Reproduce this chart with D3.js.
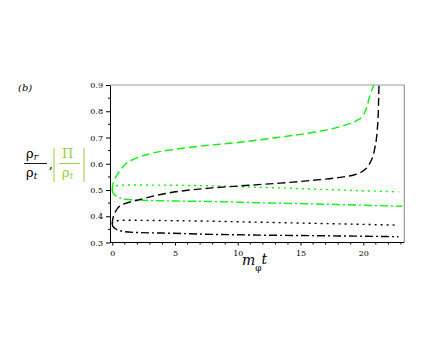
<!DOCTYPE html>
<html><head><meta charset="utf-8">
<script src="https://cdn.jsdelivr.net/npm/d3@7"></script>
<style>
body{margin:0;background:#fff;}
svg{display:block;}
</style></head>
<body>
<svg id="c" width="436" height="354"></svg>
<script>
// ---- data ----
const xTicks = [0, 5, 10, 15, 20];
const yTicks = [0.3, 0.4, 0.5, 0.6, 0.7, 0.8, 0.9];
const xTickLabels = ["0", "5", "10", "15", "20"];
const yTickLabels = ["0.3", "0.4", "0.5", "0.6", "0.7", "0.8", "0.9"];

const greenDashX = [0, 0.02, 0.08, 0.2, 0.4, 0.7, 1, 2, 3, 5, 7, 10, 13, 15, 17, 18.4, 19.5, 20.0, 20.3, 20.5, 20.7, 20.85];
const greenDashY = [0.5, 0.513, 0.527, 0.542, 0.559, 0.579, 0.596, 0.623, 0.638, 0.655, 0.667, 0.681, 0.699, 0.712, 0.728, 0.745, 0.765, 0.785, 0.818, 0.855, 0.883, 0.9];

const blackDashX = [0, 0.02, 0.08, 0.2, 0.45, 0.7, 1, 2, 3, 4.4, 6, 8, 10, 13, 14.4, 16, 18.4, 19.3, 20.0, 20.5, 20.9, 21.1, 21.2, 21.25];
const blackDashY = [0.37, 0.383, 0.397, 0.412, 0.432, 0.441, 0.448, 0.461, 0.474, 0.488, 0.499, 0.508, 0.515, 0.525, 0.530, 0.537, 0.55, 0.558, 0.573, 0.6, 0.655, 0.72, 0.8, 0.9];

const greenDotX = [0, 0.02, 0.08, 0.2, 0.4, 0.7, 1, 5, 10, 12, 15, 20, 22.8];
const greenDotY = [0.5, 0.505, 0.51, 0.514, 0.517, 0.518, 0.519, 0.518, 0.513, 0.51, 0.505, 0.497, 0.493];

const greenDashDotX = [0, 0.02, 0.08, 0.2, 0.4, 0.7, 1, 2, 5, 8, 12, 16, 20, 23.1];
const greenDashDotY = [0.5, 0.494, 0.488, 0.481, 0.474, 0.468, 0.465, 0.462, 0.458, 0.456, 0.451, 0.447, 0.442, 0.438];

const blackDotX = [0, 0.02, 0.08, 0.2, 0.4, 1, 3, 8, 12, 16, 20, 22.8];
const blackDotY = [0.37, 0.374, 0.378, 0.381, 0.383, 0.385, 0.384, 0.381, 0.377, 0.373, 0.369, 0.366];

const blackDashDotX = [0, 0.02, 0.08, 0.2, 0.4, 0.7, 1, 2, 4, 8, 12, 16, 20, 22.8];
const blackDashDotY = [0.37, 0.365, 0.36, 0.354, 0.348, 0.344, 0.341, 0.338, 0.336, 0.331, 0.328, 0.326, 0.324, 0.322];

// ---- chart ----
const FONT = "DejaVu Serif";
const svg = d3.select("#c");
const L = 110, R = 404.3, T = 85, B = 242.5;
const x = d3.scaleLinear().domain([-0.18, 23.27]).range([L, R]);
const y = d3.scaleLinear().domain([0.3, 0.9]).range([B, T]);

// frame
svg.append("line").attr("x1", L).attr("x2", R).attr("y1", T).attr("y2", T).attr("stroke", "#999").attr("stroke-width", 1.2);
svg.append("line").attr("x1", R).attr("x2", R).attr("y1", T).attr("y2", B).attr("stroke", "#999").attr("stroke-width", 1.2);

// x axis
const xAxis = d3.axisBottom(x).tickValues(xTicks).tickFormat((d, i) => xTickLabels[i]).tickSize(3).tickSizeOuter(0);
const gx = svg.append("g").attr("transform", `translate(0,${B})`).call(xAxis);
gx.attr("font-family", FONT).attr("font-size", 8);
gx.select(".domain").attr("stroke", "#000").attr("d", `M${L},0H${R}`);
gx.selectAll("text").attr("dy", "0.9em").attr("fill", "#000");
const xMinor = d3.range(1, 24).filter(v => v % 5 !== 0);
gx.selectAll(".mn").data(xMinor).enter().append("line").attr("class", "mn")
  .attr("x1", d => x(d)).attr("x2", d => x(d)).attr("y1", 0).attr("y2", 2).attr("stroke", "#000");

// y axis
const yAxis = d3.axisLeft(y).tickValues(yTicks).tickFormat((d, i) => yTickLabels[i]).tickSize(4).tickSizeOuter(0);
const gy = svg.append("g").attr("transform", `translate(${L},0)`).call(yAxis);
gy.attr("font-family", FONT).attr("font-size", 8);
gy.select(".domain").attr("stroke", "#000");
gy.selectAll("text").attr("fill", "#000");
const yMinor = [0.35, 0.45, 0.55, 0.65, 0.75, 0.85];
gy.selectAll(".mn").data(yMinor).enter().append("line").attr("class", "mn")
  .attr("x1", -2).attr("x2", 0).attr("y1", d => y(d)).attr("y2", d => y(d)).attr("stroke", "#000");

// curves
const GREEN = "#11ee11";
const line = d3.line().x(d => x(d[0])).y(d => y(d[1])).curve(d3.curveMonotoneX);
const series = [
  {xs: greenDashX, ys: greenDashY, c: GREEN, dash: "8,4"},
  {xs: greenDotX, ys: greenDotY, c: GREEN, dash: "2,4"},
  {xs: greenDashDotX, ys: greenDashDotY, c: GREEN, dash: "8,3,2,3"},
  {xs: blackDashX, ys: blackDashY, c: "#000", dash: "8,4"},
  {xs: blackDotX, ys: blackDotY, c: "#000", dash: "2,4"},
  {xs: blackDashDotX, ys: blackDashDotY, c: "#000", dash: "8,3,2,3"}
];
svg.append("clipPath").attr("id", "pc").append("rect").attr("x", L - 3).attr("y", T).attr("width", R - L + 3).attr("height", B - T);
series.forEach(s => {
  svg.append("path").datum(s.xs.map((v, i) => [v, s.ys[i]]))
    .attr("d", line).attr("fill", "none").attr("stroke", s.c)
    .attr("stroke-width", 1.4).attr("stroke-dasharray", s.dash)
    .attr("clip-path", "url(#pc)");
});

// labels
svg.append("text").attr("x", 18).attr("y", 91).attr("font-size", 10).attr("font-style", "italic").attr("font-family", FONT).text("(b)");

const xl = svg.append("text").attr("x", 242).attr("y", 265).attr("font-size", 14).attr("font-style", "italic").attr("font-family", FONT);
xl.append("tspan").text("m");
xl.append("tspan").attr("font-size", 9).attr("font-style", "normal").attr("dy", 6).text("φ");
xl.append("tspan").attr("dy", -7).text("t");

// y label: ρr/ρt , |Π/ρt|
const yl = svg.append("g").attr("font-family", FONT);
function greekSub(gx0, gy0, sub, color) {
  const t = yl.append("text").attr("x", gx0).attr("y", gy0).attr("font-size", 13).attr("fill", color);
  t.append("tspan").text("ρ");
  t.append("tspan").attr("font-size", 9).attr("font-style", "italic").attr("dy", 2).text(sub);
}
greekSub(26, 158, "r", "#000");
yl.append("line").attr("x1", 24).attr("x2", 47).attr("y1", 163.5).attr("y2", 163.5).attr("stroke", "#000").attr("stroke-width", 0.9);
greekSub(26, 177, "t", "#000");
yl.append("text").attr("x", 49).attr("y", 168).attr("font-size", 12).text(",");
const YG = "#9acd32";
yl.append("line").attr("x1", 54).attr("x2", 54).attr("y1", 148).attr("y2", 182).attr("stroke", YG).attr("stroke-width", 1);
yl.append("line").attr("x1", 84).attr("x2", 84).attr("y1", 148).attr("y2", 182).attr("stroke", YG).attr("stroke-width", 1);
yl.append("text").attr("x", 62).attr("y", 158).attr("font-size", 13).attr("fill", YG).text("Π");
yl.append("line").attr("x1", 59).attr("x2", 80).attr("y1", 163.5).attr("y2", 163.5).attr("stroke", YG).attr("stroke-width", 0.9);
greekSub(62, 177, "t", YG);
</script>
</body></html>
